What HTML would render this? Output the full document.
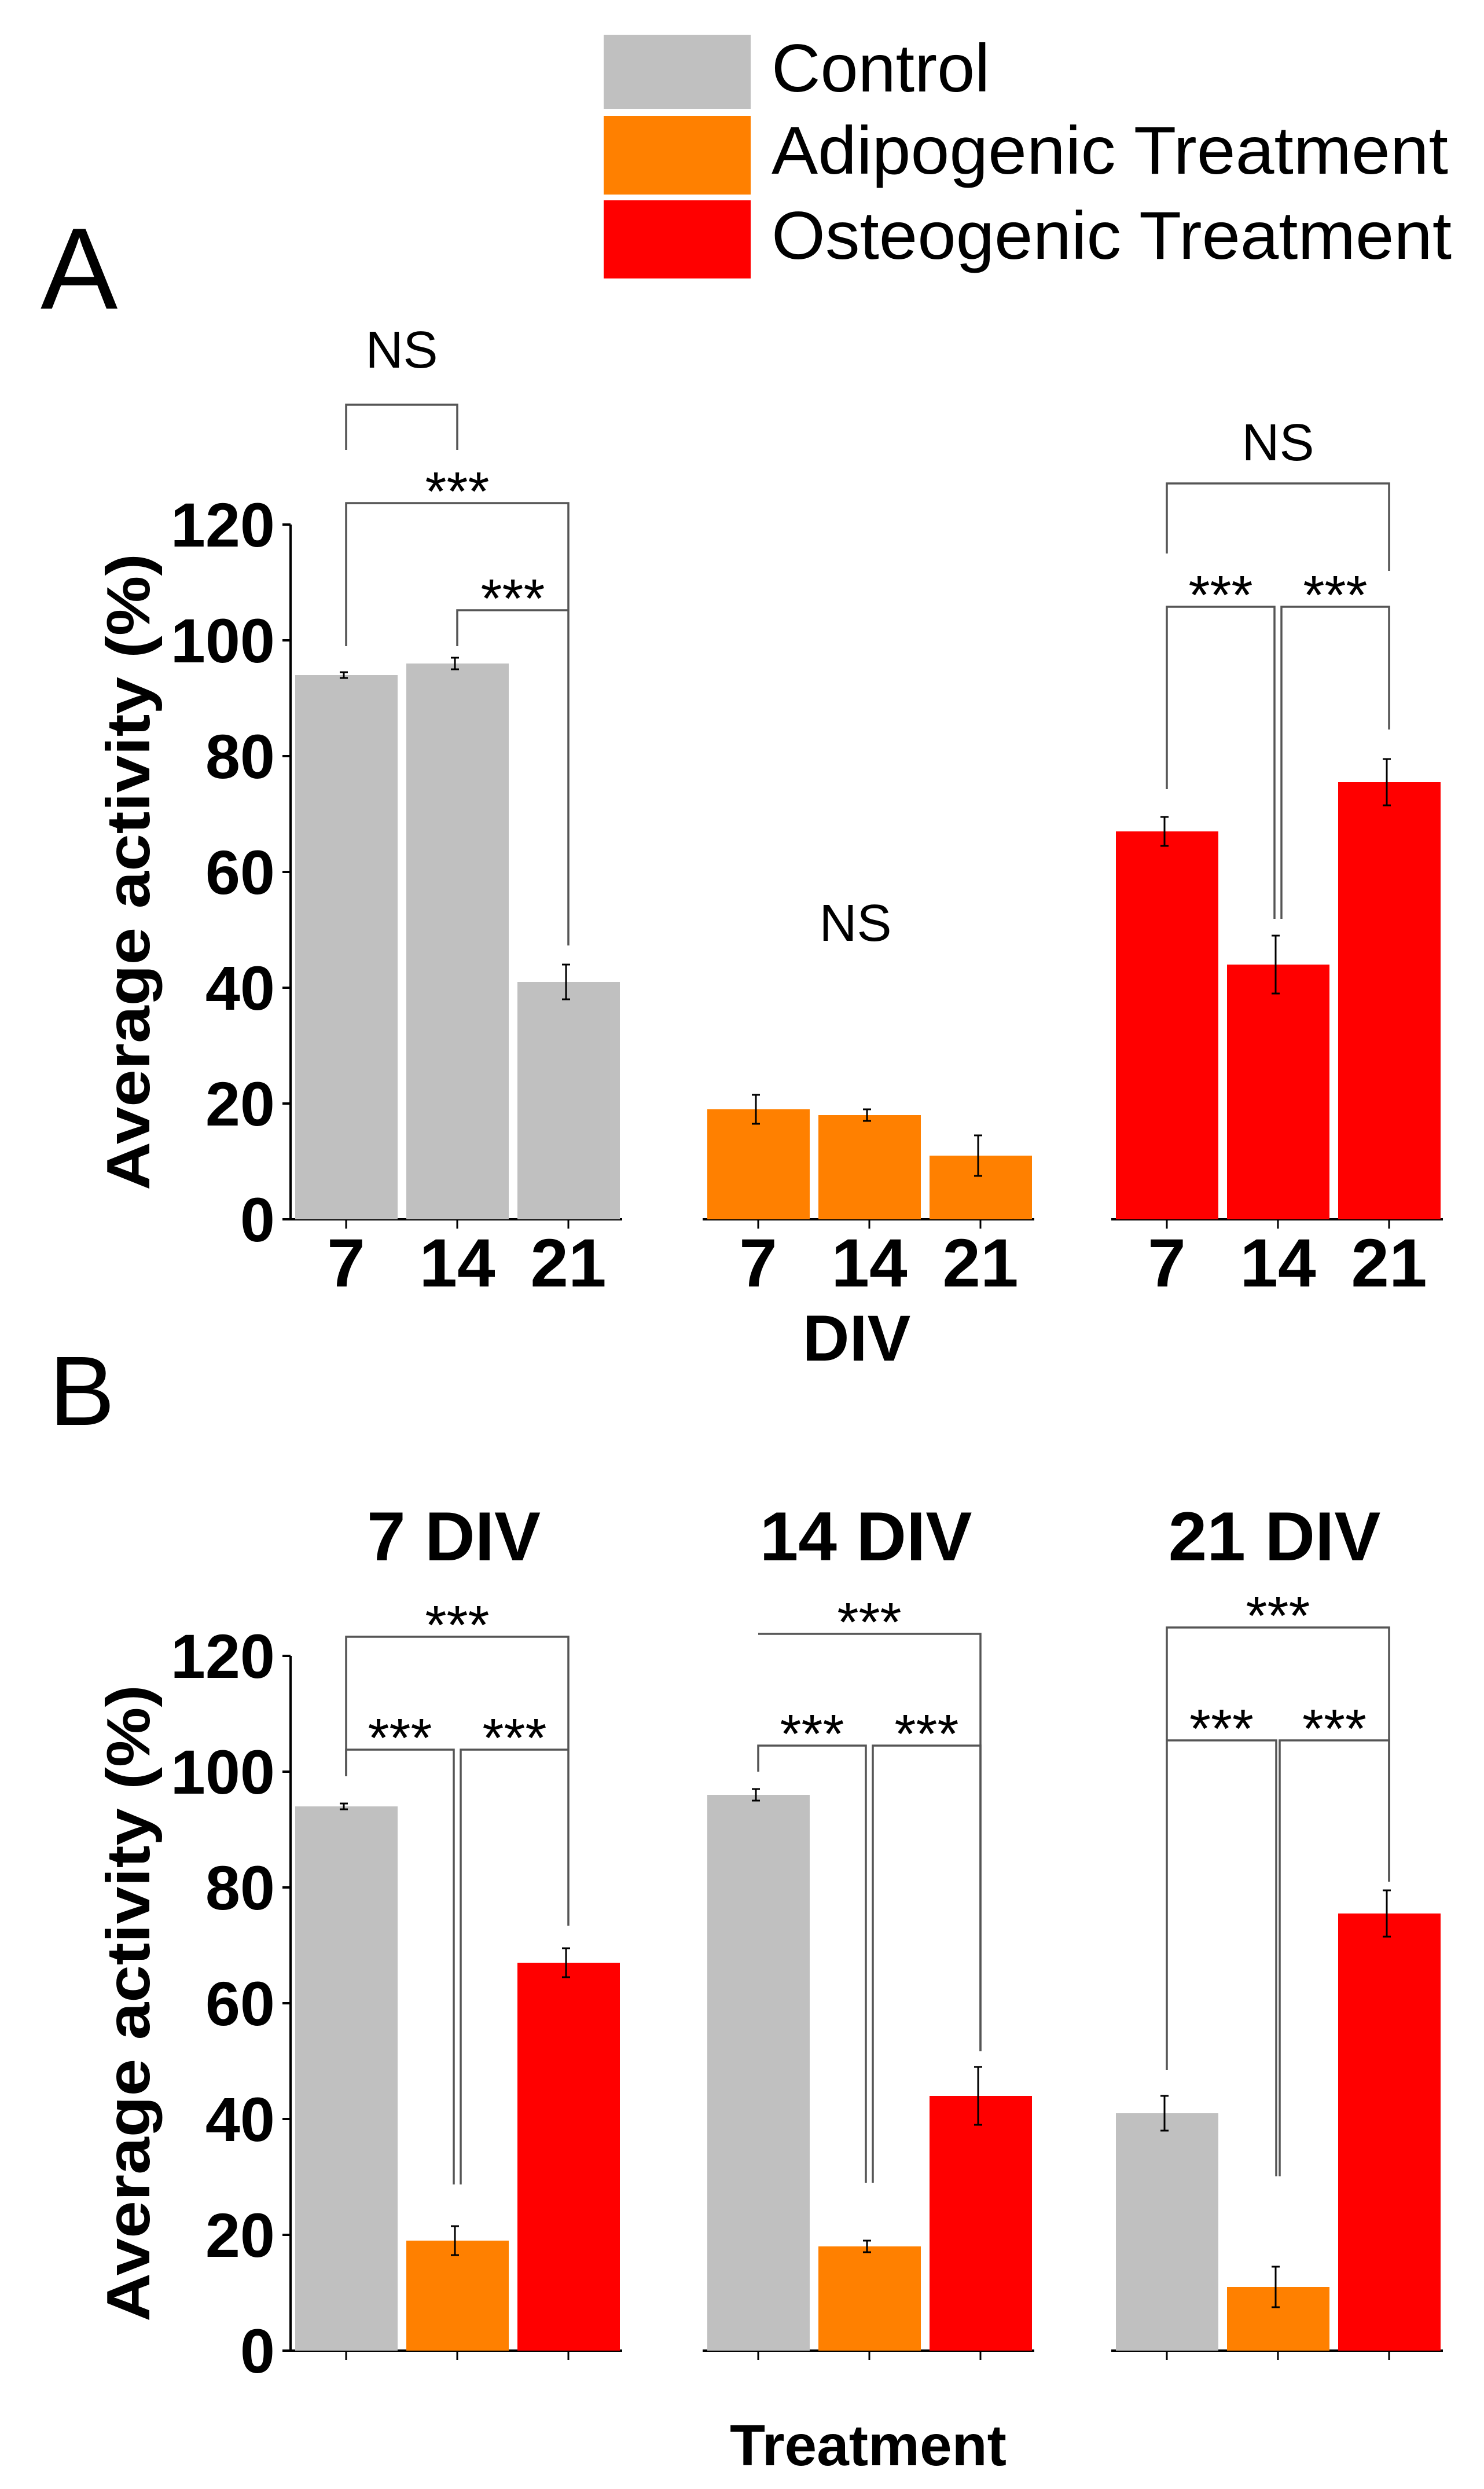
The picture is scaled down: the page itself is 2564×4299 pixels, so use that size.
<!DOCTYPE html>
<html><head><meta charset="utf-8"><style>
html,body{margin:0;padding:0;background:#fff;}
svg{display:block;}
text{font-family:"Liberation Sans",Arial,sans-serif;}
</style></head><body>
<svg id="chart" width="2564" height="4299" viewBox="0 0 2564 4299" xmlns="http://www.w3.org/2000/svg">
<g>
 <rect x="1043" y="60" width="254" height="128" fill="#c0c0c0"/>
 <rect x="1043" y="200" width="254" height="136" fill="#ff8000"/>
 <rect x="1043" y="346" width="254" height="135" fill="#ff0000"/>
 <text x="1333" y="158" font-size="117">Control</text>
 <text x="1333" y="300" font-size="117" textLength="1169" lengthAdjust="spacingAndGlyphs">Adipogenic Treatment</text>
 <text x="1333" y="447" font-size="117" textLength="1175" lengthAdjust="spacingAndGlyphs">Osteogenic Treatment</text>
</g>
<text x="70" y="533" font-size="200">A</text>
<text x="85" y="2461" font-size="170">B</text>
<g id="marks"></g>
</svg>
<script>
// Data
const groupsA = ["Control", "Adipogenic", "Osteogenic"];
const daysA = ["7", "14", "21"];
const controlVals = [94, 96, 41];
const adipoVals = [19, 18, 11];
const osteoVals = [67, 44, 75.5];
const controlErr = [0.5, 1, 3];
const adipoErr = [2.5, 1, 3.5];
const osteoErr = [2.5, 5, 4];
const yTicks = [0, 20, 40, 60, 80, 100, 120];
const divTitles = ["7 DIV", "14 DIV", "21 DIV"];

const NS = "http://www.w3.org/2000/svg";
const root = document.getElementById('marks');
const colors = ["#c0c0c0", "#ff8000", "#ff0000"];
const groupX = [502, 1214, 1920];
const axisW = 573;
const pxPerUnit = 10;
function yScale(y0, v){ return y0 - v*pxPerUnit; }
function barX(g,i){ return groupX[g] + 8 + i*192; }
function barC(g,i){ return groupX[g] + 96 + i*192; }
function mk(tag, attrs, parent){
  const e = document.createElementNS(NS, tag);
  for (const k in attrs) e.setAttribute(k, attrs[k]);
  (parent||root).appendChild(e);
  return e;
}
const allVals = [controlVals, adipoVals, osteoVals];
const allErr = [controlErr, adipoErr, osteoErr];

function yAxis(y0, panel){
  const l = mk('line',{x1:groupX[0],x2:groupX[0],y1:yScale(y0,0),y2:yScale(y0,120),stroke:'#000','stroke-width':4});
  
  
  yTicks.forEach(t=>{
    const tk = mk('line',{x1:groupX[0]-14,x2:groupX[0],y1:yScale(y0,t),y2:yScale(y0,t),stroke:'#000','stroke-width':4});
    
    
    const tx = mk('text',{x:475,y:yScale(y0,t)+38,'font-size':108,'font-weight':'bold','text-anchor':'end'});
    tx.textContent = t;
    
    
  });
  const ttl = mk('text',{x:0,y:0,'font-size':106,'font-weight':'bold','text-anchor':'middle',transform:`translate(258,${y0-600}) rotate(-90)`,textLength:1100,lengthAdjust:'spacingAndGlyphs'});
  ttl.textContent = 'Average activity (%)';
  
  
}
function xAxis(y0, g, panel){
  const l = mk('line',{x1:groupX[g],x2:groupX[g]+axisW,y1:y0,y2:y0,stroke:'#000','stroke-width':4});
  
  
  for(let i=0;i<3;i++){
    const tk = mk('line',{x1:barC(g,i),x2:barC(g,i),y1:y0,y2:y0+16,stroke:'#000','stroke-width':3});
    
    
  }
}
function bar(y0, g, i, v, e, color, panel){
  const r = mk('rect',{x:barX(g,i),y:yScale(y0,v),width:177,height:v*pxPerUnit,fill:color});
  
  
  const c = barC(g,i)-4;
  const eb = mk('path',{d:`M${c},${yScale(y0,v+e)}V${yScale(y0,v-e)}M${c-7},${yScale(y0,v+e)}h14M${c-7},${yScale(y0,v-e)}h14`,stroke:'#000','stroke-width':3,fill:'none'});
  
  
}
function bracket(y0, g, i, j, lvl, legI, legJ, label, dxi, dxj, panel, off){
  const xi = barC(g,i)+(dxi||0), xj = barC(g,j)+(dxj||0), yl = yScale(y0,lvl);
  const p = mk('path',{d:`M${xi},${yScale(y0,legI)}V${yl}H${xj}V${yScale(y0,legJ)}`,stroke:'#555','stroke-width':3.5,fill:'none'});
  
  
  const o = off!==undefined ? off : 12;
  const t = mk('text',{x:(xi+xj)/2,y:yl-o+(label==='NS'?0:24),'font-size':label==='NS'?90:95,'text-anchor':'middle'});
  t.textContent = label;
  
  
}

// Panel A
const yA = 2106;
yAxis(yA, 'panel-a');
for(let g=0; g<3; g++){
  xAxis(yA, g, 'panel-a');
  for(let i=0;i<3;i++){
    bar(yA, g, i, allVals[g][i], allErr[g][i], colors[g], 'panel-a');
    const t = mk('text',{x:barC(g,i),y:2222,'font-size':118,'font-weight':'bold','text-anchor':'middle'});
    t.textContent = daysA[i];
    
    
  }
}
const divLbl = mk('text',{x:1480,y:2350,'font-size':112,'font-weight':'bold','text-anchor':'middle'});
divLbl.textContent = 'DIV';


bracket(yA,0,0,1,140.7,132.9,132.9,'NS',0,0,'panel-a',64);
bracket(yA,0,0,2,123.7,99,47.3,'***',0,0,'panel-a');
bracket(yA,0,1,2,105.2,99,105.2,'***',0,0,'panel-a');
const nsA = mk('text',{x:1478,y:1625,'font-size':90,'text-anchor':'middle'});
nsA.textContent = 'NS';


bracket(yA,2,0,2,127.1,115,112,'NS',0,0,'panel-a',40);
bracket(yA,2,0,1,105.8,74.3,51.9,'***',0,-6,'panel-a');
bracket(yA,2,1,2,105.8,51.9,84.6,'***',6,0,'panel-a');

// Panel B
const yB = 4060;
yAxis(yB, 'panel-b');
for(let d=0; d<3; d++){
  xAxis(yB, d, 'panel-b');
  for(let t=0;t<3;t++){
    bar(yB, d, t, allVals[t][d], allErr[t][d], colors[t], 'panel-b');
  }
  const tt = mk('text',{x:barC(d,1)-6,y:2695,'font-size':120,'font-weight':'bold','text-anchor':'middle'});
  tt.textContent = divTitles[d];
  
  
}
bracket(yB,0,0,2,123.3,99.2,73.4,'***',0,0,'panel-b');
bracket(yB,0,0,1,103.8,99.2,28.7,'***',0,-6,'panel-b');
bracket(yB,0,1,2,103.8,28.7,103.8,'***',6,0,'panel-b');
bracket(yB,1,0,2,123.8,123.8,51.7,'***',0,0,'panel-b');
bracket(yB,1,0,1,104.5,100,29,'***',0,-6,'panel-b');
bracket(yB,1,1,2,104.5,29,51.7,'***',6,0,'panel-b');
bracket(yB,2,0,2,124.9,105.4,81,'***',0,0,'panel-b');
bracket(yB,2,0,1,105.4,48.5,30.1,'***',0,-3,'panel-b');
bracket(yB,2,1,2,105.4,30.1,81,'***',3,0,'panel-b');
const trt = mk('text',{x:1500,y:4258,'font-size':100,'font-weight':'bold','text-anchor':'middle'});
trt.textContent = 'Treatment';


</script>
</body></html>
